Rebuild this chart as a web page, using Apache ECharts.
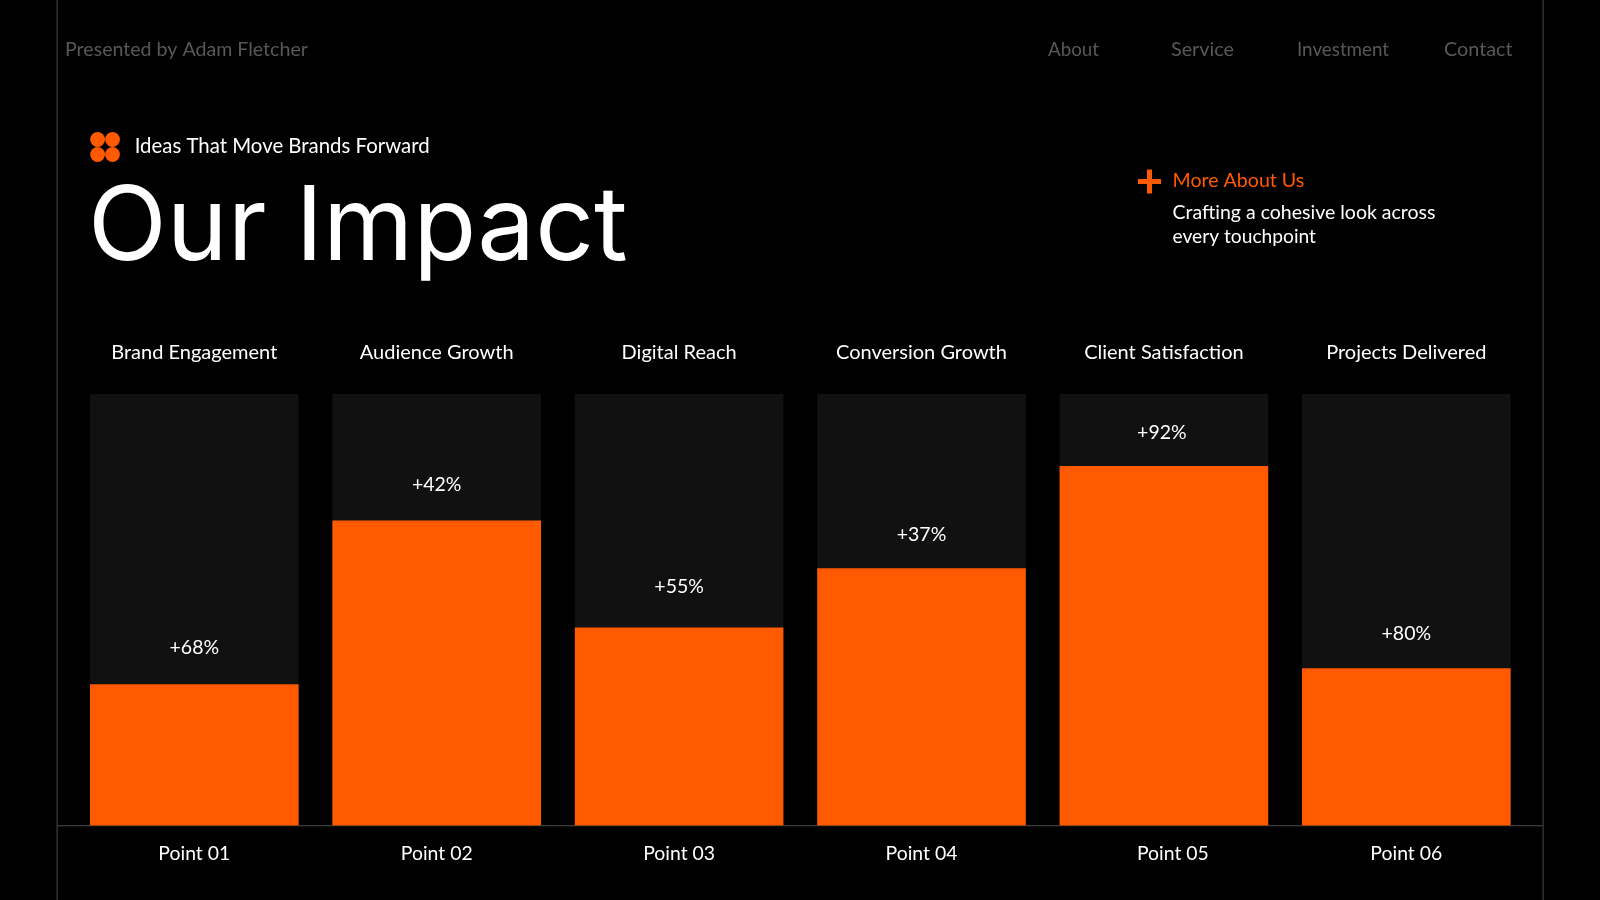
<!DOCTYPE html>
<html><head><meta charset="utf-8">
<style>html,body{margin:0;padding:0;background:#000}#c{width:1600px;height:900px}</style>
<script src="https://cdn.jsdelivr.net/npm/echarts@6/dist/echarts.min.js"></script>
</head><body><div id="c"></div>
<script>
const metricNames = ['Brand Engagement','Audience Growth','Digital Reach','Conversion Growth','Client Satisfaction','Projects Delivered'];
const pointNames = ['Point 01','Point 02','Point 03','Point 04','Point 05','Point 06'];
const barValues = [32.7,70.7,45.9,59.6,83.3,36.4];
const trackValues = [100,100,100,100,100,100];
const labelTexts = ['+68%','+42%','+55%','+37%','+92%','+80%'];
const navItems = ['About','Service','Investment','Contact'];

const ORANGE='#ff5a00', FONT='Lato', LINE='#3c3c3c', DIM='#585858';
const labelGaps=[27,26,31,24,23,25];
const navX=[1048,1171,1297,1444];
const navSizes=[18.8,19.8,18.8,19.8];
const T=(x,y,text,size,fill,extra)=>({type:'text',x,y,silent:true,style:Object.assign({text,fontSize:size,fontFamily:FONT,fill,textVerticalAlign:'middle',verticalAlign:'middle'},extra||{})});
const dot=(cx,cy)=>({type:'circle',shape:{cx,cy,r:7.4},style:{fill:ORANGE},silent:true});
const rect=(x,y,width,height,fill)=>({type:'rect',shape:{x,y,width,height},style:{fill},silent:true});

const chart=echarts.init(document.getElementById('c'),null,{width:1600,height:900});
chart.setOption({
  backgroundColor:'#000',animation:false,
  grid:{left:73.1,width:1454.4,top:394,height:431.4},
  xAxis:[
    {type:'category',position:'bottom',data:pointNames,axisLine:{show:false},axisTick:{show:false},
     axisLabel:{margin:19,fontSize:19.4,fontFamily:FONT,color:'#fff',interval:0,
       formatter:(v,i)=>i===4?'{shift|'+v+'}':v,
       rich:{shift:{fontSize:19.4,fontFamily:FONT,color:'#fff',padding:[0,0,0,18]}}}},
    {type:'category',position:'top',data:metricNames,axisLine:{show:false},axisTick:{show:false},
     axisLabel:{margin:31,fontSize:20,fontFamily:FONT,color:'#fff',interval:0}}
  ],
  yAxis:{type:'value',min:0,max:100,show:false},
  series:[
    {name:'Track',type:'bar',data:trackValues,barWidth:208.6,barGap:'-100%',itemStyle:{color:'#111111'},silent:true,z:1},
    {name:'Impact',type:'bar',data:barValues.map((v,i)=>({value:v,label:{show:true,position:'top',distance:labelGaps[i],offset:[i===4?-2:0,0],formatter:labelTexts[i],color:'#fff',fontSize:19.5,fontFamily:FONT}})),barWidth:208.6,itemStyle:{color:ORANGE},silent:true,z:2}
  ],
  graphic:[
    rect(56.5,0,1.2,900,LINE),rect(1542.5,0,1.2,900,LINE),rect(57,825,1486,1.2,LINE),
    T(65,50,'Presented by Adam Fletcher',19.6,DIM),
    ...navItems.map((n,i)=>T(navX[i],50,n,navSizes[i],DIM)),
    dot(97.6,139.5),dot(112.5,139.5),dot(97.6,154.5),dot(112.5,154.5),
    T(134.7,146.5,'Ideas That Move Brands Forward',20.4,'#fff'),
    T(88,229,'Our Impact',103,'#fff',{fontFamily:'Inter',fontWeight:400}),
    rect(1138,179,23,5,ORANGE),rect(1147,169.5,5,24,ORANGE),
    T(1172.5,181,'More About Us',19.6,ORANGE),
    T(1172.5,213,'Crafting a cohesive look across',19.5,'#fff'),
    T(1172.5,236.5,'every touchpoint',19.2,'#fff')
  ]
});
</script></body></html>
